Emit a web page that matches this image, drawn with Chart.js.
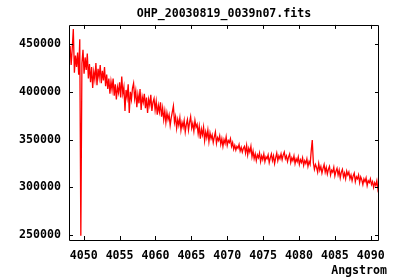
<!DOCTYPE html>
<html>
<head>
<meta charset="utf-8">
<script src="https://cdn.jsdelivr.net/npm/chart.js@4/dist/chart.umd.min.js"></script>
<style>
html,body{margin:0;padding:0;background:#fff;}
#c{display:block;}
</style>
</head>
<body>
<canvas id="c" width="400" height="280"></canvas>
<script>
// Spectrum sampling (FITS-style start wavelength and step, Angstrom)
const wavelengthStart = 4047.95;
const wavelengthStep = 0.15;
// Flux values
const flux = [
437000, 448000, 428000, 445000, 465700, 420000, 438000, 426000, 441000, 418000,
455000, 249500, 430000, 444000, 419000, 436000, 423000, 440000, 414000, 429000,
410000, 426000, 404000, 421000, 413000, 430000, 407000, 424000, 415000, 428000,
409000, 422000, 412000, 426000, 406000, 418000, 403000, 414000, 398000, 411000,
402000, 414000, 396000, 408000, 392000, 405000, 399000, 410000, 394000, 416000,
398000, 405000, 380000, 402000, 394000, 408000, 378000, 400000, 392000, 404000,
409000, 393000, 401000, 384000, 397000, 388000, 403000, 381000, 395000, 389000,
398000, 383000, 394000, 378000, 392000, 386000, 397000, 380000, 389000, 393000,
381000, 390000, 376000, 386000, 379000, 389000, 374000, 383000, 371000, 380000,
368000, 378000, 371000, 376000, 365000, 373000, 379000, 385200, 368000, 374000,
362000, 371000, 365000, 373000, 360000, 368000, 363000, 370000, 358000, 366000,
371000, 360000, 368000, 374000, 362000, 367000, 359000, 370000, 363000, 366000,
356000, 364000, 351000, 361000, 355000, 363000, 349000, 358000, 352000, 360000,
348000, 357000, 351000, 355000, 347000, 353000, 358000, 346000, 352000, 349000,
354000, 345000, 351000, 343000, 350000, 346000, 353000, 344000, 349000, 347000,
351000, 343000, 347000, 340000, 344000, 339000, 343000, 341000, 345000, 338000,
342000, 337000, 341000, 343000, 336000, 344000, 334000, 341000, 337000, 343000,
332000, 338000, 330000, 335000, 328000, 334000, 331000, 336000, 327000, 333000,
329000, 335000, 327000, 332000, 330000, 334000, 326000, 331000, 335000, 328000,
333000, 325000, 331000, 336000, 328000, 333000, 330000, 335000, 329000, 334000,
337000, 330000, 333000, 327000, 332000, 335000, 326000, 331000, 328000, 333000,
325000, 330000, 327000, 332000, 324000, 329000, 326000, 331000, 323000, 328000,
325000, 330000, 322000, 327000, 324000, 338000, 349600, 326000, 319000, 324000,
321000, 316000, 325000, 318000, 322000, 315000, 320000, 324000, 316000, 321000,
314000, 319000, 322000, 313000, 318000, 316000, 321000, 312000, 317000, 320000,
313000, 318000, 310000, 316000, 319000, 311000, 315000, 309000, 317000, 313000,
316000, 309000, 313000, 307000, 312000, 315000, 306000, 311000, 309000, 313000,
305000, 311000, 308000, 303000, 309000, 306000, 310000, 302000, 307000, 305000,
309000, 303000, 306000, 300000, 305000, 302000, 307000, 298000, 303000
];
const xTickValues = [4050, 4055, 4060, 4065, 4070, 4075, 4080, 4085, 4090];
const yTickValues = [250000, 300000, 350000, 400000, 450000];
const xRange = [4047.95, 4091.15];
const yRange = [245000, 470000];
const titleText = 'OHP_20030819_0039n07.fits';
const xAxisLabel = 'Angstrom';

const points = flux.map((f, i) => ({ x: wavelengthStart + i * wavelengthStep, y: f }));

const FONT = "'DejaVu Sans Mono', 'Liberation Mono', monospace";
const fontSpec = { family: FONT, size: 11.6, weight: 'bold' };

const framePlugin = {
  id: 'frame',
  afterDatasetsDraw(chart) {
    const { ctx, chartArea: a, scales } = chart;
    ctx.save();
    ctx.strokeStyle = '#000';
    ctx.lineWidth = 1;
    ctx.beginPath();
    ctx.rect(Math.round(a.left) + 0.5, Math.round(a.top) + 0.5,
             Math.round(a.right - a.left) - 1, Math.round(a.bottom - a.top));
    ctx.stroke();
    const tl = 4;
    ctx.beginPath();
    xTickValues.forEach(v => {
      const px = Math.round(scales.x.getPixelForValue(v)) + 0.5;
      ctx.moveTo(px, a.bottom); ctx.lineTo(px, a.bottom - tl);
      ctx.moveTo(px, a.top); ctx.lineTo(px, a.top + tl);
    });
    yTickValues.forEach(v => {
      const py = Math.round(scales.y.getPixelForValue(v)) + 0.5;
      ctx.moveTo(a.left, py); ctx.lineTo(a.left + tl, py);
      ctx.moveTo(a.right, py); ctx.lineTo(a.right - tl, py);
    });
    ctx.stroke();
    ctx.fillStyle = '#000';
    ctx.font = 'bold 11.6px ' + FONT;
    ctx.textAlign = 'right';
    ctx.textBaseline = 'middle';
    ctx.fillText(xAxisLabel, 387, 271);
    ctx.restore();
  }
};

new Chart(document.getElementById('c'), {
  type: 'line',
  data: {
    datasets: [{
      data: points,
      borderColor: '#ff0000',
      borderWidth: 1.3,
      pointRadius: 0,
      tension: 0,
      fill: false
    }]
  },
  options: {
    responsive: false,
    animation: false,
    devicePixelRatio: 1,
    layout: { padding: { left: 0, right: 21, top: 0, bottom: 0 } },
    plugins: {
      legend: { display: false },
      tooltip: { enabled: false },
      title: {
        display: true,
        text: titleText,
        color: '#000',
        font: fontSpec,
        fullSize: false,
        padding: { top: 7, bottom: 4 }
      }
    },
    scales: {
      x: {
        type: 'linear',
        min: xRange[0],
        max: xRange[1],
        afterBuildTicks: s => { s.ticks = xTickValues.map(v => ({ value: v })); },
        afterFit: s => { s.height = 40; },
        grid: { display: false, drawTicks: false },
        border: { display: false },
        ticks: { color: '#000', font: fontSpec, padding: 9, maxRotation: 0, autoSkip: false,
                 callback: v => String(v) }
      },
      y: {
        type: 'linear',
        min: yRange[0],
        max: yRange[1],
        afterBuildTicks: s => { s.ticks = yTickValues.map(v => ({ value: v })); },
        afterFit: s => { s.width = 69; },
        grid: { display: false, drawTicks: false },
        border: { display: false },
        ticks: { color: '#000', font: fontSpec, padding: 8, autoSkip: false,
                 callback: v => String(v) }
      }
    }
  },
  plugins: [framePlugin]
});
</script>
</body>
</html>
